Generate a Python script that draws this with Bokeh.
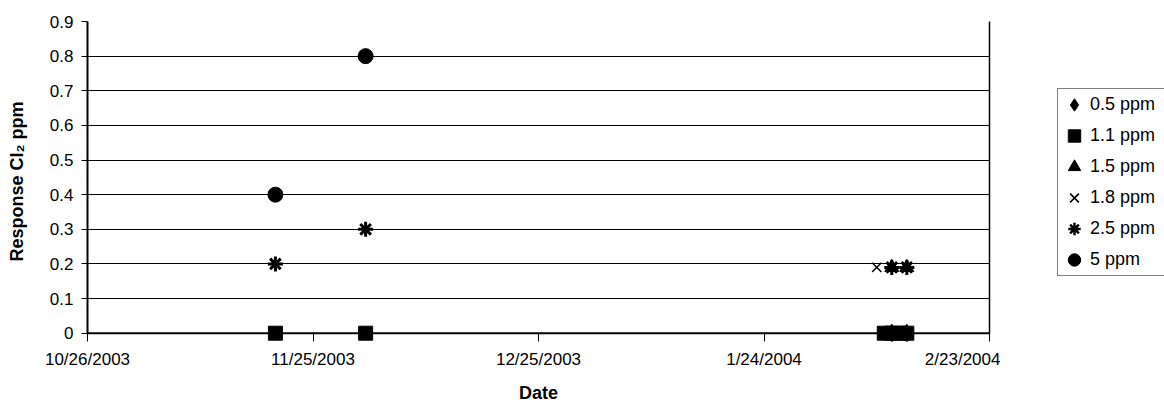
from datetime import datetime
from bokeh.plotting import figure
from bokeh.layouts import row
from bokeh.models import (Legend, LegendItem, FixedTicker, LinearAxis,
                          CustomJSTickFormatter, Range1d, Span)
from bokeh.embed import file_html
from bokeh.resources import INLINE

# ---------------- data ----------------
series_names = ["0.5 ppm", "1.1 ppm", "1.5 ppm", "1.8 ppm", "2.5 ppm", "5 ppm"]

dates_05 = ["2004-02-10", "2004-02-12"]
vals_05 = [0.0, 0.0]

dates_11 = ["2003-11-20", "2003-12-02", "2004-02-09", "2004-02-10",
            "2004-02-11", "2004-02-12"]
vals_11 = [0.0, 0.0, 0.0, 0.0, 0.0, 0.0]

dates_15 = ["2004-02-10", "2004-02-12"]
vals_15 = [0.19, 0.19]

dates_18 = ["2004-02-08"]
vals_18 = [0.19]

dates_25 = ["2003-11-20", "2003-12-02", "2004-02-10", "2004-02-12"]
vals_25 = [0.2, 0.3, 0.19, 0.19]

dates_50 = ["2003-11-20", "2003-12-02"]
vals_50 = [0.4, 0.8]

x_tick_dates = ["2003-10-26", "2003-11-25", "2003-12-25", "2004-01-24", "2004-02-23"]
y_ticks = [0, 0.1, 0.2, 0.3, 0.4, 0.5, 0.6, 0.7, 0.8, 0.9]

series_dates = [dates_05, dates_11, dates_15, dates_18, dates_25, dates_50]
series_vals = [vals_05, vals_11, vals_15, vals_18, vals_25, vals_50]


def to_dt(lst):
    return [datetime.strptime(s, "%Y-%m-%d") for s in lst]


def to_ms(s):
    d = datetime.strptime(s, "%Y-%m-%d")
    return (d - datetime(1970, 1, 1)).total_seconds() * 1000.0


FONT = "Liberation Sans"

p = figure(width=1000, height=406, x_axis_type="datetime",
           output_backend="svg", toolbar_location=None,
           x_range=Range1d(to_dt([x_tick_dates[0]])[0], to_dt([x_tick_dates[-1]])[0]),
           y_range=Range1d(-0.024, 0.9),
           min_border_left=87, min_border_right=11, min_border_top=21,
           min_border_bottom=65)

p.background_fill_color = "white"
p.border_fill_color = "white"
p.outline_line_color = None

# grid
p.xgrid.grid_line_color = None
p.ygrid.grid_line_color = "black"
p.ygrid.grid_line_width = 1
p.ygrid.ticker = FixedTicker(ticks=y_ticks)

# axes
p.yaxis.ticker = FixedTicker(ticks=y_ticks)
p.yaxis.major_label_overrides = {0: "0"}
p.yaxis.bounds = (0, 0.9)
p.xaxis.ticker = FixedTicker(ticks=[to_ms(s) for s in x_tick_dates])
p.xaxis.formatter = CustomJSTickFormatter(code="""
const d = new Date(tick);
return (d.getUTCMonth()+1) + '/' + d.getUTCDate() + '/' + d.getUTCFullYear();
""")

for ax in (p.xaxis[0], p.yaxis[0]):
    ax.axis_line_color = "black"
    ax.axis_line_width = 2
    ax.major_tick_line_color = "black"
    ax.major_tick_line_width = 1
    ax.minor_tick_line_color = None
    ax.major_label_text_font = FONT
    ax.major_label_text_font_style = "normal"
    ax.major_label_text_font_size = "17px"
    ax.major_label_text_color = "black"
    ax.axis_label_text_font = FONT
    ax.axis_label_text_font_style = "bold"
    ax.axis_label_text_font_size = "18px"
    ax.axis_label_text_color = "black"

p.yaxis.major_tick_in = 0
p.yaxis.major_tick_out = 6
p.yaxis.major_label_standoff = 8
p.yaxis.axis_label = "Response Cl\u2082 ppm"
p.yaxis.axis_label_standoff = 20

# x axis sits at the frame bottom; its ticks reach up to the zero line
p.xaxis.axis_line_color = None
p.xaxis.major_tick_in = 9
p.xaxis.major_tick_out = 0
p.xaxis.major_label_standoff = 8
p.xaxis.axis_label = "Date"
p.xaxis.axis_label_standoff = 11

# zero line (category axis line)
p.add_layout(Span(location=0, dimension="width", line_color="black", line_width=2))

# right border as an unlabeled axis limited to the data range
rax = LinearAxis(ticker=FixedTicker(ticks=[]), bounds=(0, 0.9),
                 axis_line_color="black", axis_line_width=1.5,
                 major_tick_out=0, major_tick_in=0, minor_tick_out=0,
                 minor_tick_in=0, major_label_standoff=0,
                 major_label_text_font_size="0px")
p.add_layout(rax, "right")

styles = [
    dict(marker="diamond", size=18, fill_color="black", line_color="black"),
    dict(marker="square", size=14, fill_color="black", line_color="black"),
    dict(marker="triangle", size=14, fill_color="black", line_color="black"),
    dict(marker="x", size=13, line_color="black", line_width=1.5),
    dict(marker="asterisk", size=15, line_color="black", line_width=3),
    dict(marker="circle", size=15, fill_color="black", line_color="black"),
]

for d, v, st in zip(series_dates, series_vals, styles):
    p.scatter(to_dt(d), v, **st)

# ---------------- legend panel ----------------
q = figure(width=164, height=406, output_backend="svg", toolbar_location=None,
           x_range=Range1d(0, 1), y_range=Range1d(0, 1),
           x_axis_location=None, y_axis_location=None,
           min_border_left=0, min_border_right=0, min_border_top=0,
           min_border_bottom=0)
q.grid.visible = False
q.outline_line_color = None
q.background_fill_color = "white"
q.border_fill_color = "white"

# same series drawn in the legend panel (outside its visible range),
# used only as legend entries
lg_renderers = []
for d, v, st in zip(series_dates, series_vals, styles):
    st2 = {k: val for k, val in st.items() if k != "size"}
    if st2["marker"] == "asterisk":
        st2["line_width"] = 2.5
    lg_renderers.append(q.scatter(to_dt(d), v, **st2))

legend = Legend(items=[LegendItem(label=n, renderers=[r])
                       for n, r in zip(series_names, lg_renderers)],
                location=(57, 65))
legend.label_text_font = FONT
legend.label_text_font_style = "normal"
legend.label_text_font_size = "18px"
legend.label_text_color = "black"
legend.glyph_width = 32
legend.glyph_height = 31
legend.label_height = 31
legend.label_standoff = 0
legend.spacing = 0
legend.padding = 0
legend.margin = 0
legend.label_width = 80
legend.border_line_color = "black"
legend.border_line_width = 1.5
legend.background_fill_alpha = 1
q.add_layout(legend, "center")

layout = row(p, q)
open("out.html", "w").write(file_html(layout, INLINE))
